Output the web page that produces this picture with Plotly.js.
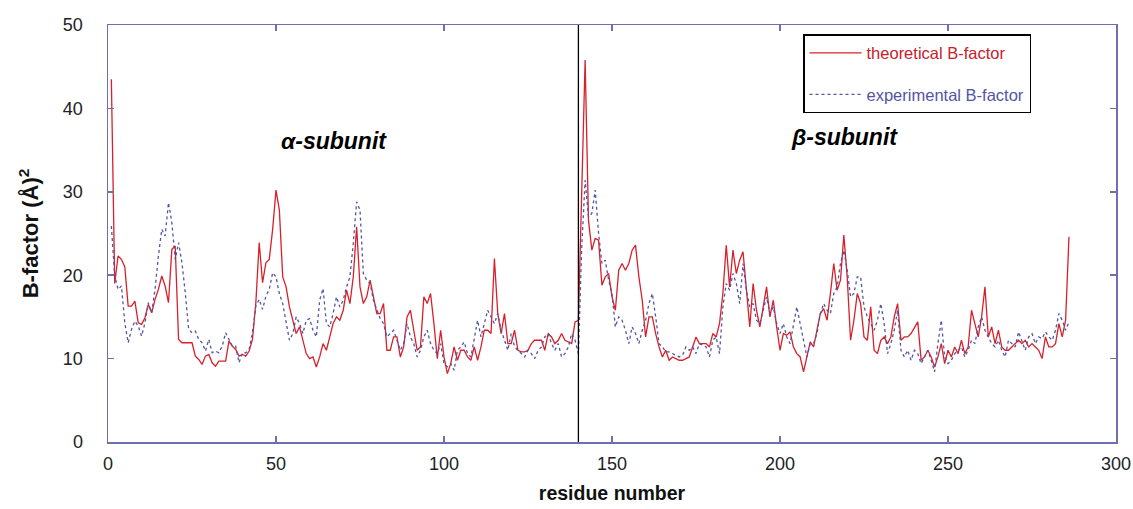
<!DOCTYPE html>
<html>
<head>
<meta charset="utf-8">
<script src="https://cdn.plot.ly/plotly-3.0.1.min.js"></script>
<style>html,body{margin:0;padding:0;background:#fff;}#chart{width:1133px;height:509px;}</style>
</head>
<body>
<div id="chart"></div>
<script>
// residue numbers 1..286
const residueStart = 1;
const residueEnd = 286;
const subunitBoundary = 140;

// theoretical B-factor, residues 1..286
const theoretical = [
  43.5,19.0,22.3,21.9,21.0,16.3,16.3,16.9,14.3,14.1,
  14.9,16.5,15.5,17.1,18.3,19.9,18.7,16.7,23.1,23.5,
  12.3,11.9,11.9,11.9,11.9,10.3,9.9,9.3,10.3,10.5,
  9.5,9.1,9.7,9.7,9.7,12.1,11.5,11.1,10.3,10.5,
  10.3,10.9,12.3,16.7,23.9,19.1,21.5,21.9,25.5,30.2,
  27.8,19.8,18.6,16.2,14.6,13.0,13.8,12.2,10.6,10.0,
  10.2,9.0,10.2,11.8,11.0,12.6,14.2,15.0,14.6,15.8,
  18.2,16.6,19.8,25.8,18.6,16.6,17.4,19.4,17.4,15.4,
  15.4,16.6,11.0,11.0,12.6,12.6,10.2,11.4,15.0,15.8,
  13.4,11.0,11.4,17.4,16.6,17.8,14.2,10.0,13.4,10.2,
  8.2,9.4,11.4,9.8,11.0,11.0,10.2,9.8,11.4,9.8,
  11.4,13.4,13.4,13.0,22.0,15.4,13.0,15.4,11.8,11.8,
  13.4,11.0,10.8,10.8,11.0,11.8,12.2,12.2,12.2,11.0,
  13.0,12.6,11.8,12.2,13.0,12.2,12.0,11.8,14.4,14.6,
  30.2,45.8,26.6,23.0,24.4,24.2,18.8,19.8,20.2,17.4,
  15.8,20.6,21.4,20.6,21.4,23.0,23.6,19.8,17.0,12.6,
  15.0,15.0,13.0,11.4,10.2,11.0,9.8,10.2,10.0,9.8,
  9.8,10.0,10.2,11.4,12.6,11.8,11.8,11.8,11.4,13.0,
  12.6,14.2,17.8,23.6,18.6,23.0,20.2,21.8,22.8,17.8,
  13.8,19.0,15.8,13.8,16.2,18.6,15.0,17.0,13.8,11.0,
  13.0,12.8,13.2,11.4,10.6,10.2,8.4,10.2,12.0,11.4,
  13.4,15.4,16.0,14.6,17.8,21.4,18.2,19.4,24.8,19.8,
  12.2,14.6,17.8,16.6,12.6,12.2,16.2,11.0,10.6,12.2,
  12.6,11.8,12.6,15.0,16.6,12.2,12.6,12.6,13.0,13.8,
  14.4,9.8,10.2,11.0,10.2,9.0,10.2,11.8,9.4,11.0,
  10.2,11.4,10.6,12.2,10.6,11.4,15.8,14.2,12.6,15.0,
  18.6,12.6,13.8,11.8,13.4,11.4,11.0,11.0,11.4,11.8,
  12.2,11.8,12.2,11.4,11.8,11.4,11.0,10.0,12.6,11.4,
  11.4,11.8,14.2,12.6,14.6,24.6
];

// experimental B-factor, residues 1..286
const experimental = [
  25.9,19.9,18.3,18.7,14.3,11.9,13.5,14.5,13.9,12.7,
  14.3,16.7,15.5,18.3,22.3,25.5,24.7,28.7,26.3,21.9,
  23.9,21.5,17.9,13.5,13.1,13.3,12.3,11.9,10.9,12.3,
  10.7,10.9,10.7,11.5,13.1,12.3,11.5,11.5,9.5,10.7,
  10.7,11.1,13.1,16.3,17.1,15.9,17.5,18.3,20.3,19.8,
  17.8,16.6,14.2,12.2,13.0,15.0,14.2,13.0,14.6,14.8,
  13.4,12.6,17.0,18.4,14.2,13.8,15.4,17.4,16.2,17.0,
  18.6,19.8,23.8,28.8,27.8,20.2,19.4,19.0,17.0,15.8,
  14.8,14.2,12.6,13.0,13.4,12.2,11.0,11.8,14.2,12.6,
  11.8,10.2,11.0,12.6,13.4,11.8,11.0,10.6,11.8,9.4,
  9.0,9.4,8.6,11.0,11.4,12.0,10.6,10.2,12.2,14.6,
  12.6,14.2,15.8,15.0,14.2,15.4,13.4,12.2,11.0,13.0,
  11.4,11.0,10.6,10.2,11.0,10.6,10.0,11.0,11.4,12.6,
  13.0,11.8,11.0,11.8,10.2,10.6,11.4,13.0,12.2,10.6,
  23.4,31.4,27.0,27.4,30.2,25.0,21.4,21.8,19.4,17.8,
  13.8,15.0,14.6,13.4,11.8,13.8,13.0,11.8,13.4,14.6,
  16.6,17.8,15.0,11.8,11.4,10.8,10.8,10.6,10.4,10.2,
  10.4,11.4,11.0,11.4,10.6,11.8,11.6,11.4,10.2,12.2,
  12.6,10.6,16.2,19.0,18.2,20.2,19.0,16.6,21.4,18.2,
  16.2,16.6,14.6,14.2,15.8,17.4,15.4,16.2,14.2,13.0,
  14.2,12.6,11.8,13.8,16.2,14.2,12.2,10.2,11.8,11.8,
  13.0,15.4,16.6,15.8,15.4,17.8,18.6,21.4,23.0,20.6,
  17.4,17.8,19.8,19.8,16.2,15.0,14.2,13.4,14.6,16.6,
  14.2,10.6,11.8,13.4,15.8,11.0,10.2,11.0,9.8,11.0,
  10.6,9.4,10.2,11.0,9.8,8.4,11.8,14.6,10.2,9.4,
  9.8,10.6,11.0,11.4,10.2,11.0,12.2,11.8,13.8,15.0,
  13.4,12.6,11.8,11.4,12.2,11.0,10.2,12.2,11.8,11.4,
  13.2,12.2,11.0,12.6,13.0,11.8,12.6,12.4,13.2,12.6,
  12.2,13.4,15.4,14.6,13.4,14.4
];

const residues = [];
for (let r = residueStart; r <= residueEnd; r++) residues.push(r);

const axisColor = '#6f6fb0';
const fontFam = '"Liberation Sans", Arial, sans-serif';

const traces = [
  {
    x: residues.slice(0, theoretical.length), y: theoretical,
    type: 'scatter', mode: 'lines', name: 'theoretical B-factor',
    legendgroup: 'a',
    line: {color: '#d8202a', width: 1.3}
  },
  {
    x: residues.slice(0, experimental.length), y: experimental,
    type: 'scatter', mode: 'lines', name: 'experimental B-factor',
    legendgroup: 'b',
    line: {color: '#5454a4', width: 1.3, dash: 'dot'}
  }
];

const layout = {
  width: 1133, height: 509,
  margin: {l: 108, r: 17, t: 25, b: 67},
  paper_bgcolor: '#fff', plot_bgcolor: '#fff',
  font: {family: fontFam, color: '#222', size: 16},
  showlegend: true,
  legend: {
    x: 0.6895, y: 0.978, xanchor: 'left', yanchor: 'top',
    bordercolor: '#000', borderwidth: 1.5, bgcolor: '#fff',
    font: {family: fontFam, size: 16.5, color: '#c0202a'},
    tracegroupgap: 17, traceorder: 'grouped', itemwidth: 52
  },
  xaxis: {
    range: [0, 300], dtick: 50, tick0: 0,
    showgrid: false, zeroline: false,
    showline: true, linecolor: axisColor, linewidth: 1.5, mirror: 'ticks',
    ticks: 'inside', ticklen: 6, tickcolor: axisColor, tickwidth: 1.5,
    tickfont: {family: fontFam, size: 18, color: '#222'},
    ticklabelstandoff: 5,
    title: {text: '<b>residue number</b>', font: {family: fontFam, size: 19.5, color: '#111'}, standoff: 13}
  },
  yaxis: {
    range: [0, 50], dtick: 10, tick0: 0,
    showgrid: false, zeroline: false,
    showline: true, linecolor: axisColor, linewidth: 1.5, mirror: 'ticks',
    ticks: 'inside', ticklen: 6, tickcolor: axisColor, tickwidth: 1.5,
    tickfont: {family: fontFam, size: 18, color: '#222'},
    ticklabelstandoff: 20,
    title: {text: '<b>B-factor (Å)<sup>2</sup></b>', font: {family: fontFam, size: 22, color: '#111'}, standoff: 18}
  },
  shapes: [
    {type: 'line', xref: 'x', yref: 'paper', x0: subunitBoundary, x1: subunitBoundary, y0: 0, y1: 1,
     line: {color: '#000', width: 1.3}}
  ],
  annotations: [
    {x: 67.3, y: 36.1, xref: 'x', yref: 'y', text: '<b><i>α-subunit</i></b>', showarrow: false,
     font: {family: fontFam, size: 23, color: '#000'}},
    {x: 219.3, y: 36.6, xref: 'x', yref: 'y', text: '<b><i>β-subunit</i></b>', showarrow: false,
     font: {family: fontFam, size: 23, color: '#000'}}
  ]
};

Plotly.newPlot('chart', traces, layout, {displayModeBar: false, staticPlot: true}).then(function () {
  // colour each legend label like its line
  const texts = document.querySelectorAll('.legend .legendtext');
  const cols = ['#c8202a', '#5454a4'];
  texts.forEach(function (t, i) { t.style.fill = cols[i] || '#000'; });
});
</script>
</body>
</html>
